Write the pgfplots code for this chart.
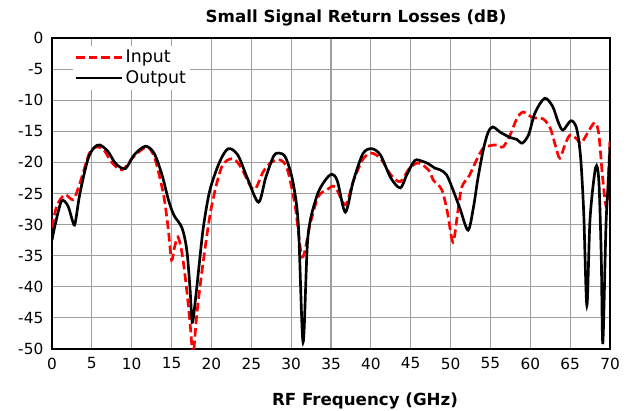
\documentclass[border=0pt]{standalone}
\usepackage{pgfplots}
\pgfplotsset{compat=1.18}
\usetikzlibrary{calc}
\usepackage{fontspec}
\setmainfont{DejaVu Sans}
\begin{document}
\begin{tikzpicture}
\begin{axis}[
  name=ax,
  scale only axis,
  width=418.5pt, height=233.25pt,
  xmin=0, xmax=70, ymin=-50, ymax=0,
  xtick={0,5,...,70},
  ytick={-50,-45,...,0},
  yticklabels={-50,-45,-40,-35,-30,-25,-20,-15,-10,-5,0},
  /pgf/number format/assume math mode=true,
  tick label style={font=\fontsize{11.5}{13}\selectfont},
  major tick length=0pt,
  grid=major,
  major grid style={draw=black!38, line width=0.8pt},
  axis line style={line width=1.5pt},
  xticklabel style={yshift=-3pt},
  yticklabel style={xshift=-3pt},
  legend style={at={(rel axis cs:0.038,0.975)}, anchor=north west, draw=none, fill=white,
    font=\fontsize{13}{14}\selectfont, row sep=0.5pt, inner sep=1pt},
  legend cell align=left,
  legend image code/.code={\draw[#1] (0cm,0cm) -- (1.2cm,0cm);},
  clip=true,
]
\addplot[red, line width=2pt, dash pattern=on 6.5pt off 3pt, smooth, tension=0.5] coordinates {
(0,-30.5) (0.6,-27) (1.6,-25.2) (2.6,-26) (3.2,-24.5) (3.9,-21.7) (4.7,-18.5) (5.6,-17.5)
(6.5,-18) (7.5,-20) (8.8,-21.2) (10.3,-19) (11.9,-17.5) (12.8,-19) (13.5,-22.3) (14.1,-26)
(14.6,-30.9) (15.0,-35.7) (15.4,-33.5) (15.8,-32) (16.3,-34.5) (16.9,-40.5) (17.4,-47) (17.7,-51)
(18.2,-44) (19.0,-35.7) (20.0,-27.2) (21.3,-20.7) (22.7,-19.4) (23.8,-21) (24.8,-23.6) (25.5,-24.3)
(26.5,-21.5) (27.5,-20) (28.6,-19.6) (29.5,-21) (30.5,-27) (31.4,-35.2) (32.4,-29.8) (33.4,-25.5)
(34.5,-24.4) (35.5,-23.9) (36.8,-26.8) (37.8,-23) (39.0,-19.5) (40.1,-18.5) (41.3,-19.5) (42.5,-22)
(43.7,-23.1) (44.8,-21) (45.8,-20.1) (46.5,-20.4) (47.4,-21.5) (47.8,-22.8) (48.9,-24.4) (49.6,-28)
(50.3,-32.8) (50.9,-28) (51.4,-24) (52.4,-22) (53.3,-19.5) (54.1,-17.7) (55.0,-17.3) (55.8,-17.2)
(56.6,-17.5) (57.5,-15.5) (58.3,-13) (59.1,-11.9) (60.3,-12.8) (61.6,-13) (62.5,-14.5) (63.2,-17.5)
(63.7,-19.3) (64.4,-17) (65.0,-15.6) (65.8,-16.2) (66.4,-16.9) (67.3,-15) (68.1,-13.6) (68.6,-15.5)
(69.1,-22.8) (69.6,-27) (70,-16)
};
\addlegendentry{Input}
\addplot[black, line width=2pt, smooth, tension=0.5] coordinates {
(0,-32.5) (0.4,-30) (1.2,-26.2) (2.0,-27) (2.6,-29.5) (2.9,-29.8) (3.5,-25) (4.5,-19.5)
(5.3,-17.6) (6.0,-17.2) (7.0,-18.2) (8.0,-20.2) (9.2,-21) (10.3,-18.8) (11.7,-17.4) (12.8,-18.5)
(13.8,-22) (14.6,-26) (15.3,-28.5) (16.3,-30.5) (16.9,-34) (17.3,-40) (17.6,-45.7) (18.0,-42)
(18.5,-36) (19.0,-30.3) (19.8,-24.5) (21.0,-20) (22.1,-17.8) (23.3,-18.8) (24.5,-22.5) (25.9,-26.4)
(26.8,-22.5) (27.8,-19) (28.5,-18.5) (29.3,-19.2) (30.2,-23) (30.9,-30) (31.5,-48.9) (32.1,-32)
(33.2,-25.5) (34.2,-23) (35.1,-21.9) (35.8,-23) (36.8,-28) (37.8,-23) (39.0,-18.6) (40.1,-17.8)
(41.2,-18.8) (42.5,-22.5) (43.7,-24.1) (44.5,-22) (45.5,-19.7) (46.4,-19.8) (47.2,-20.2) (48.0,-20.9)
(48.7,-21.2) (49.5,-22) (50.3,-24.4) (51.2,-27.5) (52.2,-30.9) (52.9,-27) (53.4,-22.8) (54.1,-18)
(54.7,-15.2) (55.3,-14.3) (56.3,-15.2) (57.5,-16) (58.3,-16.3) (59.0,-16.9) (59.8,-15.5) (60.6,-12)
(61.8,-9.7) (62.8,-11) (63.5,-13.5) (64.1,-14.8) (65.1,-13.3) (65.8,-14.5) (66.3,-19) (66.7,-28)
(67.1,-43) (67.5,-29) (68.2,-20.8) (68.6,-23) (68.9,-35) (69.1,-49) (69.5,-30) (69.8,-22.8) (70,-17.5)
};
\addlegendentry{Output}
\end{axis}
\node[font=\fontsize{12.5}{14}\selectfont\bfseries] at ($(ax.north west)!0.545!(ax.north east)+(0,15pt)$) {Small Signal Return Losses (dB)};
\node[font=\fontsize{12.5}{14}\selectfont\bfseries] at ($(ax.south west)!0.561!(ax.south east)+(0,-39pt)$) {RF Frequency (GHz)};
\pgfresetboundingbox
\path ($(ax.south west)+(-39pt,-45.75pt)$) rectangle ($(ax.north east)+(20.25pt,28.5pt)$);
\end{tikzpicture}
\end{document}
